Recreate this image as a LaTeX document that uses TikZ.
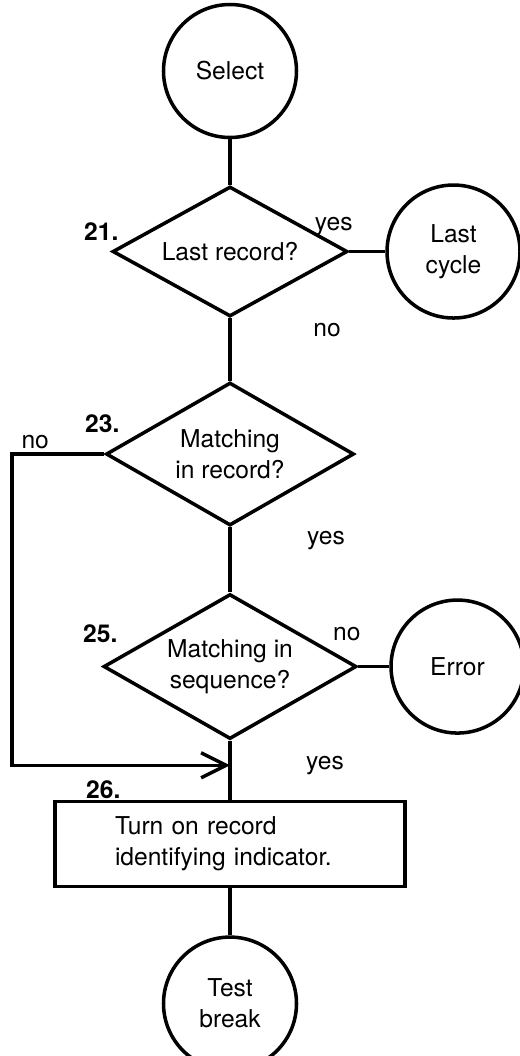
\documentclass[tikz,border=0pt]{standalone}
\usepackage{fontspec}
\setmainfont{TeX Gyre Heros}
\usetikzlibrary{positioning,shapes,arrows.meta}

\begin{document}
\begin{tikzpicture}[
            every node/.style={ font=\fontsize{14}{17.5}\selectfont },
            line width=2pt,
            term/.style={ draw, circle, minimum size=26.6mm, inner sep=0pt, align=center },
            decision/.style={ draw, diamond, aspect=1.8, inner sep=0pt, align=center },
            lbl/.style={ inner sep=1pt }
        ]

        \useasboundingbox (0,0) rectangle (10.4,-21.12);

        \node[term] (select) at (4.6,-1.42) {Select};
        \node[decision, minimum width=47mm, minimum height=26mm, below=9.1mm of select] (last) {Last record?};
        \node[term, right=7.2mm of last] (lastcycle) {Last\\ cycle};
        \node[decision, minimum width=49.6mm, minimum height=28.6mm, below=12.5mm of last] (inrec) {Matching\\ in record?};
        \node[decision, minimum width=50.6mm, minimum height=29mm, below=13mm of inrec] (inseq) {Matching in\\ sequence?};
        \node[term, right=6.2mm of inseq] (error) {Error};
        \coordinate[below=4.9mm of inseq] (join);
        \node[draw, minimum width=70mm, minimum height=17mm, text width=46mm, align=left, below=11.8mm of inseq] (turnon) {Turn on record\\ identifying indicator.};
        \node[term, below=9.4mm of turnon] (testbreak) {Test\\ break};
        \coordinate[left=18.4mm of inrec.west] (back);

        \draw (select) -- (last);
        \draw (last) -- (lastcycle);
        \draw (last) -- (inrec);
        \draw (inrec) -- (inseq);
        \draw (inseq) -- (error);
        \draw (inseq) -- (turnon);
        \draw (turnon) -- (testbreak);
        \draw[-{Straight Barb[length=5mm,width=5mm]}] (inrec.west) -- (back) |- (join);

        \node[lbl] (n21) at ([shift={(-0.19,0.4)}]last.west) {\bfseries 21.};
        \node[lbl] (yes21) at ([shift={(-0.31,0.5)}]last.east) {yes};
        \node[lbl] (no21) at ([shift={(1.94,-0.24)}]last.south) {no};
        \node[lbl] (n23) at ([shift={(-0.04,0.6)}]inrec.west) {\bfseries 23.};
        \node[lbl] (no23) at ([shift={(-1.38,0.24)}]inrec.west) {no};
        \node[lbl] (yes23) at ([shift={(1.92,-0.27)}]inrec.south) {yes};
        \node[lbl] (n25) at ([shift={(-0.03,0.66)}]inseq.west) {\bfseries 25.};
        \node[lbl] (no25) at ([shift={(-0.23,0.64)}]inseq.east) {no};
        \node[lbl] (yes25) at ([shift={(1.9,0)}]join) {yes};
        \node[lbl] (n26) at ([shift={(1.0,0.2)}]turnon.north west) {\bfseries 26.};
    \end{tikzpicture}
\end{document}
